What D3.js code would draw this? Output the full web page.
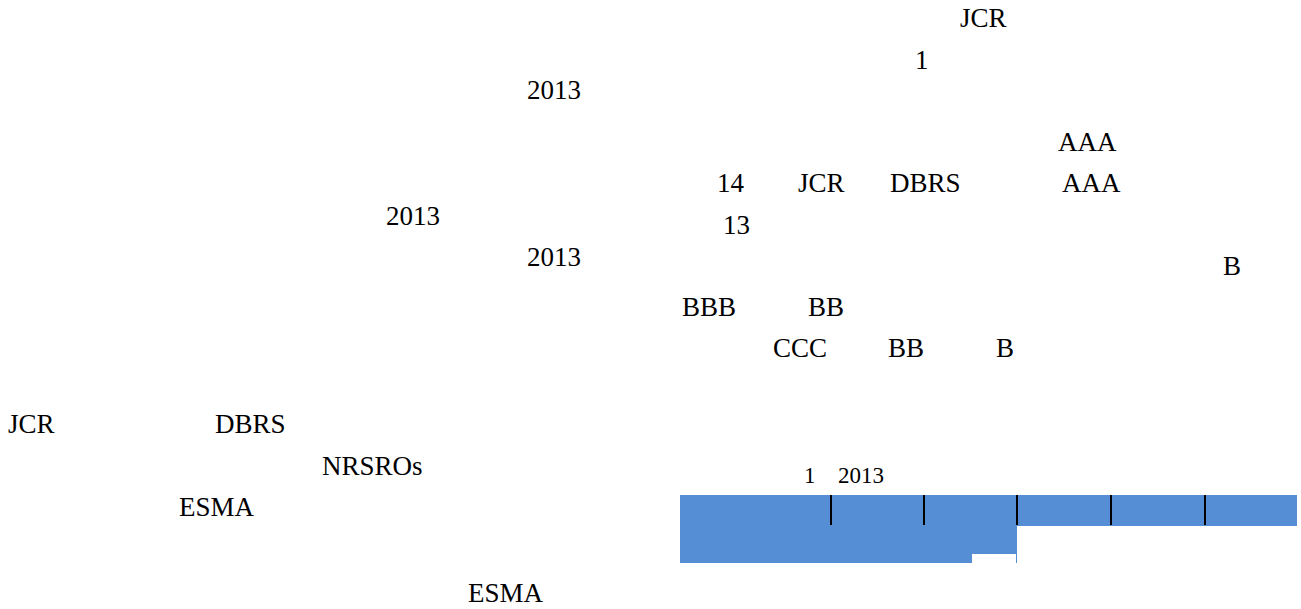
<!DOCTYPE html>
<html>
<head>
<meta charset="utf-8">
<script src="https://cdn.jsdelivr.net/npm/d3@7/dist/d3.min.js"></script>
<style>
  body { margin: 0; }
  #page { position: relative; width: 1301px; height: 609px; overflow: hidden; }
  #page svg { position: absolute; left: 0; top: 0; }
  .frag { position: absolute; white-space: nowrap; line-height: 1; color: #000; font-family: "Liberation Serif", "Times New Roman", Tinos, serif; }
</style>
</head>
<body>
<div id="page"></div>
<script>
// left column fragments (the page text that survived), the line each sits on, and its left edge
const leftTexts = ["2013", "2013", "2013", "JCR", "DBRS", "NRSROs", "ESMA", "ESMA"];
const leftLine  = [0, 3, 4, 8, 8, 9, 10, 12.05];
const leftX     = [527, 386, 527, 8, 215, 322, 179, 468];

// right column fragments
const rightTexts = ["JCR", "1", "AAA", "14", "JCR", "DBRS", "AAA", "13", "B", "BBB", "BB", "CCC", "BB", "B"];
const rightLine  = [0, 1, 3, 4, 4, 4, 4, 5, 6, 7, 7, 8, 8, 8];
const rightX     = [960, 915, 1058, 717, 798, 890, 1062, 723, 1223, 682, 808, 773, 888, 996];

// table caption and header
const captionTexts = ["1", "2013"];
const captionX     = [804, 838];
const colEdges     = [680, 831, 924, 1017, 1111, 1205, 1297];

const page = d3.select("#page");

// baseline for a given line number
const leftY  = d3.scaleLinear().domain([0, 1]).range([100, 141.7]);
const rightY = d3.scaleLinear().domain([0, 1]).range([28, 69.25]);

// baseline sits about 0.837em below the top of a line-height:1 box in Liberation Serif
function addTexts(texts, xs, ys, size) {
  page.selectAll(null).data(texts).enter().append("div")
    .attr("class", "frag")
    .style("left", (d, i) => xs[i] + "px")
    .style("top", (d, i) => (ys(i) - size * 0.837) + "px")
    .style("font-size", size + "px")
    .text(d => d);
}

// table header (blue)
const svg = page.append("svg").attr("width", 1301).attr("height", 609);
const blue = "#558ed5";
const tbl = svg.append("g");
const colX = d3.scaleLinear().domain(d3.range(colEdges.length)).range(colEdges);

tbl.selectAll("rect.head")
  .data(d3.range(colEdges.length - 1))
  .enter().append("rect")
    .attr("class", "head")
    .attr("x", d => colX(d))
    .attr("y", 495)
    .attr("width", d => colX(d + 1) - colX(d))
    .attr("height", 31)
    .attr("fill", blue);

// merged second row under the first three columns
tbl.append("rect")
  .attr("x", colX(0)).attr("y", 526)
  .attr("width", colX(3) - colX(0)).attr("height", 37)
  .attr("fill", blue);
tbl.append("rect")
  .attr("x", 972).attr("y", 554)
  .attr("width", colX(3) - 1 - 972).attr("height", 9)
  .attr("fill", "#fff");

tbl.selectAll("line.sep")
  .data(d3.range(1, colEdges.length - 1))
  .enter().append("line")
    .attr("class", "sep")
    .attr("x1", d => colX(d)).attr("x2", d => colX(d))
    .attr("y1", 495).attr("y2", 525)
    .attr("stroke", "#000")
    .attr("stroke-width", 2);

addTexts(leftTexts, leftX, i => leftY(leftLine[i]), 27);
addTexts(rightTexts, rightX, i => rightY(rightLine[i]), 27);
addTexts(captionTexts, captionX, i => 483, 23);
</script>
</body>
</html>
